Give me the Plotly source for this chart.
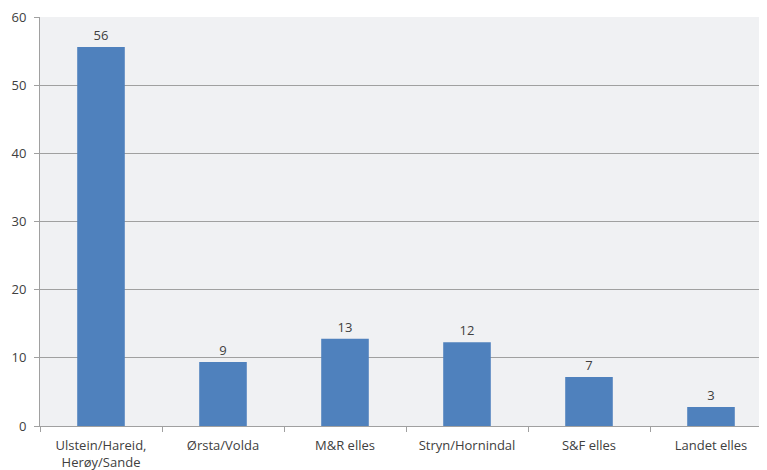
import plotly.graph_objects as go

categories = ["Ulstein/Hareid,<br>Herøy/Sande", "Ørsta/Volda", "M&R elles",
              "Stryn/Hornindal", "S&F elles", "Landet elles"]
values = [55.6, 9.4, 12.8, 12.3, 7.2, 2.8]
y_ticks = [0, 10, 20, 30, 40, 50, 60]

FONT = "Open Sans, Liberation Sans, sans-serif"

fig = go.Figure(go.Bar(
    x=categories, y=values,
    marker=dict(color="#4f81bd", line=dict(width=0)),
    texttemplate="%{y:.0f}", textposition="outside",
    textfont=dict(size=13, color="#404040", family=FONT),
    cliponaxis=False,
))

fig.update_layout(
    width=764, height=470,
    margin=dict(l=32, r=0, t=9, b=52),
    paper_bgcolor="#ffffff",
    plot_bgcolor="#f0f1f3",
    bargap=0.61,
    showlegend=False,
    font=dict(family=FONT, size=13, color="#404040"),
)
fig.update_xaxes(
    automargin=False,
    showline=True, linecolor="#a0a0a0", linewidth=1,
    ticks="outside", tickson="boundaries", ticklen=5, tickcolor="#a0a0a0",
    ticklabelstandoff=7, ticklabeloverflow="allow",
    showgrid=False, tickfont=dict(size=13, color="#404040"),
)
fig.update_yaxes(
    automargin=False,
    range=[0, 60], tickvals=y_ticks,
    showline=True, linecolor="#a0a0a0", linewidth=1,
    ticks="outside", ticklen=5, tickcolor="#a0a0a0",
    ticklabelstandoff=5, ticklabeloverflow="allow",
    showgrid=True, gridcolor="#a0a0a0", gridwidth=1,
    zeroline=False, tickfont=dict(size=13, color="#404040"),
)

fig.write_html("out.html")
